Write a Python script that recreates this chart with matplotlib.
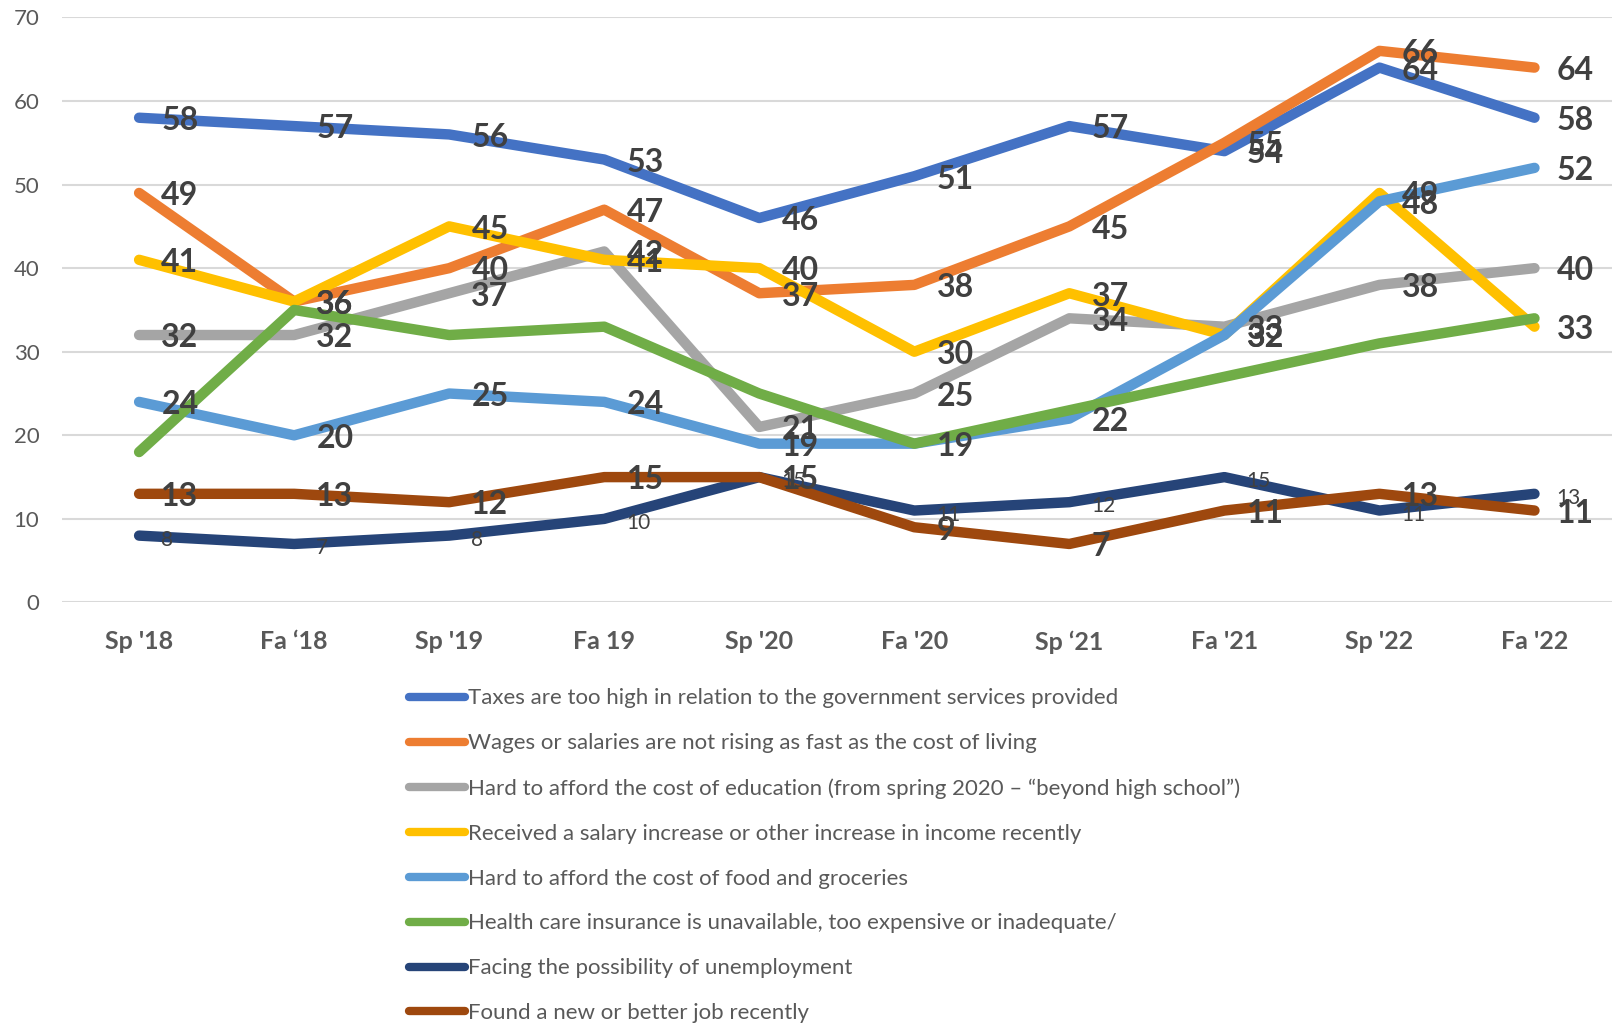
import numpy as np
import matplotlib.pyplot as plt

plt.rcParams['font.family'] = ['Lato', 'DejaVu Sans']

periods = ["Sp '18", "Fa \u201818", "Sp '19", "Fa 19", "Sp '20",
           "Fa '20", "Sp \u201821", "Fa '21", "Sp '22", "Fa '22"]

taxes = [58, 57, 56, 53, 46, 51, 57, 54, 64, 58]
wages = [49, 36, 40, 47, 37, 38, 45, 55, 66, 64]
education = [32, 32, 37, 42, 21, 25, 34, 33, 38, 40]
salary_increase = [41, 36, 45, 41, 40, 30, 37, 32, 49, 33]
food = [24, 20, 25, 24, 19, 19, 22, 32, 48, 52]
health = [18, 35, 32, 33, 25, 19, 23, 27, 31, 34]
unemployment = [8, 7, 8, 10, 15, 11, 12, 15, 11, 13]
new_job = [13, 13, 12, 15, 15, 9, 7, 11, 13, 11]

series = [
    ("Taxes are too high in relation to the government services provided", taxes, '#4472C4', 'big'),
    ("Wages or salaries are not rising as fast as the cost of living", wages, '#ED7D31', 'big'),
    ("Hard to afford the cost of education (from spring 2020 \u2013 \u201cbeyond high school\u201d)", education, '#A5A5A5', 'big'),
    ("Received a salary increase or other increase in income recently", salary_increase, '#FFC000', 'big'),
    ("Hard to afford the cost of food and groceries", food, '#5B9BD5', 'big'),
    ("Health care insurance is unavailable, too expensive or inadequate/", health, '#70AD47', None),
    ("Facing the possibility of unemployment", unemployment, '#264478', 'small'),
    ("Found a new or better job recently", new_job, '#9E480E', 'big'),
]

fig = plt.figure(figsize=(16.12, 10.26), dpi=100)
ax = fig.add_axes([0.0382, 0.4128, 0.9618, 0.5702])

x = np.arange(len(periods))
handles = []
for name, vals, color, lab in series:
    ln, = ax.plot(x, vals, color=color, lw=7.5, solid_capstyle='round',
                  solid_joinstyle='round', label=name)
    handles.append(ln)

# value labels sit just right of each point, drawn over all the lines
for name, vals, color, lab in series:
    if lab is None:
        continue
    for xi, v in zip(x, vals):
        if lab == 'big':
            ax.annotate(str(v), (xi, v), xytext=(16, -2), textcoords='offset points',
                        ha='left', va='center', fontsize=23, fontweight='bold',
                        color='#404040', zorder=10)
        else:
            ax.annotate(str(v), (xi, v), xytext=(16, -3), textcoords='offset points',
                        ha='left', va='center', fontsize=15,
                        color='#404040', zorder=10)

ax.set_xlim(-0.5, len(periods) - 0.5)
ax.set_ylim(0, 70)
ax.set_yticks(range(0, 71, 10))
ax.set_xticks(x)
ax.set_xticklabels(periods, fontsize=18, fontweight='bold', color='#595959')
ax.tick_params(axis='y', labelsize=16, labelcolor='#595959', length=0, pad=16)
ax.tick_params(axis='x', length=0, pad=20)
ax.grid(axis='y', color='#D9D9D9', lw=1.5)
ax.set_axisbelow(True)
for s in ax.spines.values():
    s.set_visible(False)

leg = fig.legend(handles=[plt.Line2D([], [], color=h.get_color(), lw=6,
                                     solid_capstyle='round') for h in handles],
                 labels=[s[0] for s in series],
                 loc='upper left', bbox_to_anchor=(0.2537, 0.329),
                 frameon=False, fontsize=16, handlelength=2.5,
                 handletextpad=0.15, labelspacing=1.12, borderaxespad=0,
                 borderpad=0)
for t in leg.get_texts():
    t.set_color('#595959')

fig.savefig('out.png', dpi=100)
